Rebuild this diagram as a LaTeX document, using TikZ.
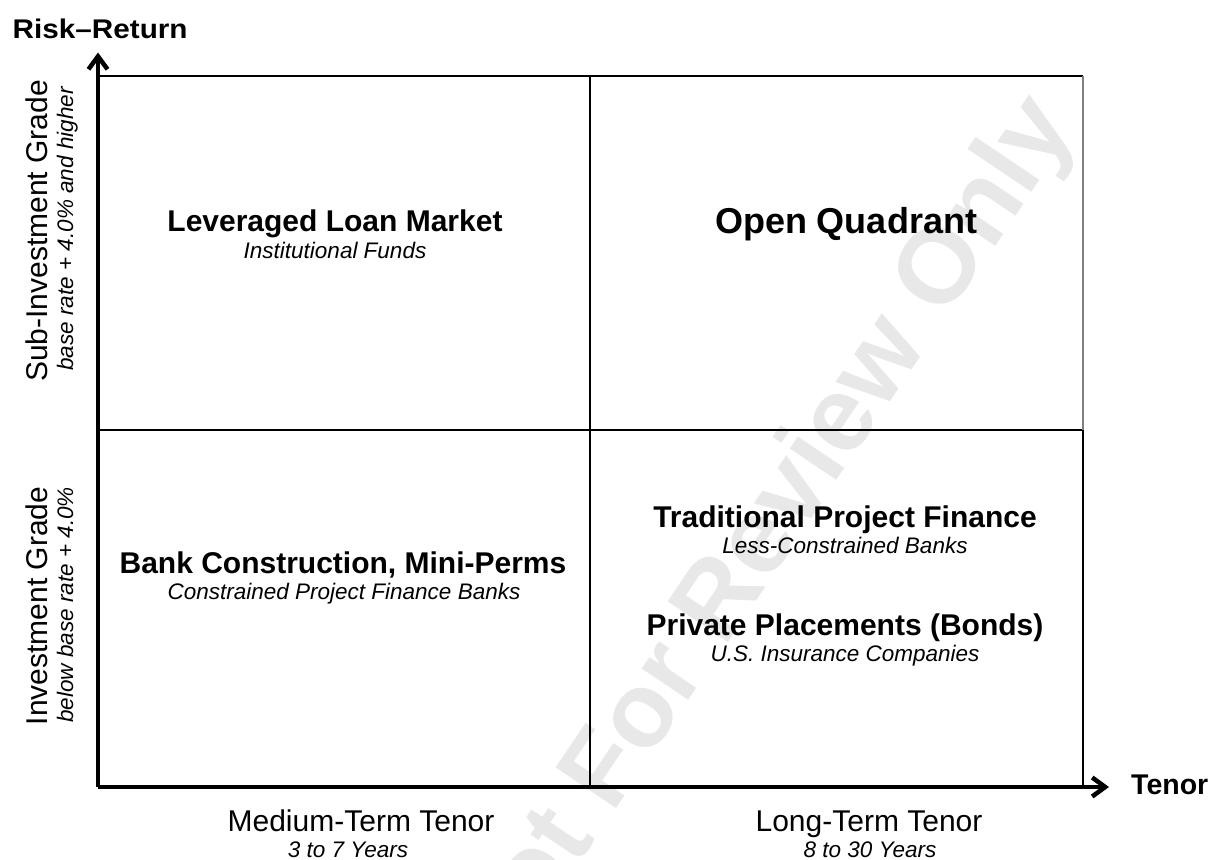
\documentclass[tikz,border=0pt]{standalone}
\usepackage{fontspec}
\setmainfont{Liberation Sans}
\usetikzlibrary{arrows.meta}
\begin{document}
\begin{tikzpicture}[x=1pt,y=-1pt,
  title/.style={font=\fontsize{30}{34}\selectfont\bfseries, inner sep=0pt, anchor=base},
  sub/.style={font=\fontsize{22.5}{26}\selectfont\itshape, inner sep=0pt, anchor=base},
  axislabel/.style={font=\fontsize{30}{34}\selectfont, inner sep=0pt, anchor=base},
  axisname/.style={font=\fontsize{28.5}{32}\selectfont\bfseries, inner sep=0pt, anchor=base west},
  axisline/.style={line width=4.5pt, -{Straight Barb[length=13pt,width=19pt]}},
  gridline/.style={line width=1.5pt},
  watermark/.style={text=black!9, font=\fontsize{106}{110}\selectfont\bfseries, inner sep=0pt, anchor=base west, rotate=56},
]
\useasboundingbox (0,0) rectangle (1214,859);
\clip (0,0) rectangle (1214,859);

% watermark behind everything
\node[watermark] (wm) at (497,985) {Not For Review Only};

% frame corners
\coordinate (O)  at (98,787);
\coordinate (YT) at (98,52.5);
\coordinate (XT) at (1109,787);
\coordinate (TL) at (98,76);
\coordinate (TM) at (590,76);
\coordinate (TR) at (1083,76);
\coordinate (ML) at (98,430);
\coordinate (MR) at (1083,430);
\coordinate (BM) at (590,787);
\coordinate (BR) at (1083,787);

% quadrant grid
\draw[gridline] (TL) -- (TR);
\draw[gridline] (ML) -- (MR);
\draw[line width=2pt] (TM) -- (BM);
\draw[gridline, black!50] (TR) -- (MR);
\draw[line width=2pt] (MR) -- (BR);

% axes
\draw[axisline] (O) -- (YT);
\draw[axisline] (O) -- (XT);

% axis names
\node[axisname, font=\fontsize{27}{30}\selectfont\bfseries] (risk) at (12.5,38.5) {\scalebox{1.1}[1]{Risk–Return}};
\node[axisname] (tenor) at (1131,794.5) {Tenor};

% vertical axis categories
\node[axislabel, rotate=90] (subig) at (47,231) {Sub-Investment Grade};
\node[sub, rotate=90] (subigr) at (73,229) {base rate + 4.0\% and higher};
\node[axislabel, rotate=90] (ig) at (47,606) {Investment Grade};
\node[sub, rotate=90] (igr) at (73,605) {below base rate + 4.0\%};

% horizontal axis categories
\node[axislabel] (mt) at (361,831) {Medium-Term Tenor};
\node[sub] (mty) at (348,857) {3 to 7 Years};
\node[axislabel] (lt) at (869,831) {Long-Term Tenor};
\node[sub] (lty) at (870,857) {8 to 30 Years};

% quadrant contents
\node[title] (llm) at (335,231) {Leveraged Loan Market};
\node[sub] (llms) at (335,258) {Institutional Funds};
\node[title, font=\fontsize{36}{40}\selectfont\bfseries] (oq) at (846,233) {Open Quadrant};
\node[title] (bc) at (343,573) {Bank Construction, Mini-Perms};
\node[sub] (bcs) at (344,599.5) {Constrained Project Finance Banks};
\node[title] (tpf) at (845,527) {Traditional Project Finance};
\node[sub] (tpfs) at (845,553.5) {Less-Constrained Banks};
\node[title] (pp) at (845,635) {Private Placements (Bonds)};
\node[sub] (pps) at (845,661.5) {U.S. Insurance Companies};
\end{tikzpicture}
\end{document}
